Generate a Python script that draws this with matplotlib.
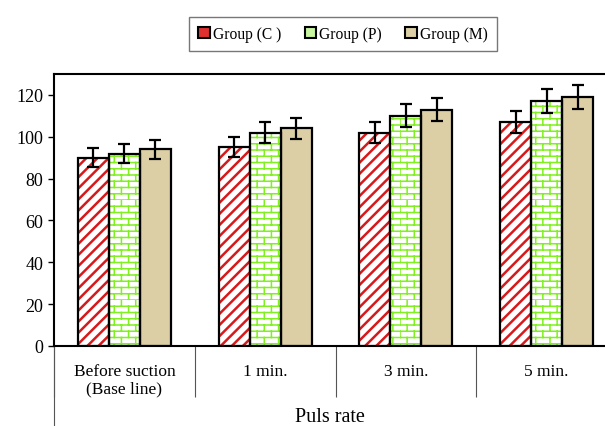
import warnings
import numpy as np
import matplotlib
matplotlib.use("Agg")
import matplotlib.pyplot as plt
from matplotlib import hatch as mhatch
from matplotlib.path import Path
from matplotlib.patches import Patch

warnings.filterwarnings("ignore")

# data
categories = ["Before suction\n(Base line)", "1 min.", "3 min.", "5 min."]
groups = ["Group (C )", "Group (P)", "Group (M)"]
group_c = [90, 95, 102, 107]
group_p = [92, 102, 110, 117]
group_m = [94, 104, 113, 119]
err_c = [4.6, 4.8, 5.0, 5.3]
err_p = [4.5, 5.0, 5.5, 5.8]
err_m = [4.6, 5.1, 5.6, 5.9]
yticks = [0, 20, 40, 60, 80, 100, 120]


# brick pattern for Group (P), 'b' in the hatch string
class BrickHatch(mhatch.HatchPatternBase):
    rows, cols = 16, 7

    def __init__(self, hatch, density):
        self.on = "b" in hatch
        self.num_lines = (self.rows + self.rows * self.cols) if self.on else 0
        self.num_vertices = self.num_lines * 2

    def set_vertices_and_codes(self, vertices, codes):
        segs = []
        for i in range(self.rows):
            y0, y1 = i / self.rows, (i + 1) / self.rows
            segs.append(((0.0, y0), (1.0, y0)))
            for j in range(self.cols):
                x = (j + 0.5 * (i % 2)) / self.cols
                segs.append(((x, y0), (x, y1)))
        vertices[:] = np.array(segs).reshape(-1, 2)
        codes[0::2] = Path.MOVETO
        codes[1::2] = Path.LINETO


mhatch._hatch_types.append(BrickHatch)

plt.rcParams["font.family"] = ["Liberation Serif", "DejaVu Serif"]
plt.rcParams["hatch.linewidth"] = 1.5

fig = plt.figure(figsize=(6.05, 4.27), dpi=100)
ax = fig.add_axes([54 / 605, 1 - 347 / 427, 563 / 605, 272 / 427])

x = np.arange(len(categories))
w = 0.22
series = [
    (group_c, err_c, -w, "white", "#d7191c", "///", 1.8),
    (group_p, err_p, 0.0, "white", "#80f020", "b", 1.1),
    (group_m, err_m, w, "#dccfa5", "#dccfa5", None, 1.0),
]
for vals, errs, off, fc, hc, hatch, hlw in series:
    bars = ax.bar(x + off, vals, w, color=fc, edgecolor=hc, linewidth=0,
                  hatch=hatch, zorder=2)
    for b in bars:
        if hasattr(b, "set_hatch_linewidth"):
            b.set_hatch_linewidth(hlw)
    ax.bar(x + off, vals, w, fill=False, edgecolor="black", linewidth=1.6,
           zorder=3)
    ax.errorbar(x + off, vals, yerr=errs, fmt="none", ecolor="black",
                elinewidth=1.6, capsize=4.5, capthick=1.6, zorder=4)

ax.set_xlim(-0.5, 3.5)
ax.set_ylim(0, 130)
ax.set_yticks(yticks)
ax.tick_params(axis="y", labelsize=13, length=4, width=1, direction="out")

# category boundaries as long ticks, labels in between
ax.set_xticks([-0.5, 0.5, 1.5, 2.5, 3.5])
ax.set_xticklabels([])
ax.tick_params(axis="x", which="major", length=37, width=0.8, color="#555555")
ax.set_xticks(x, minor=True)
ax.set_xticklabels(categories, minor=True, fontsize=12.5, linespacing=1.15)
ax.tick_params(axis="x", which="minor", length=0, pad=12)
ax.plot([0, 0], [0, -80 / 272], transform=ax.transAxes, color="#555555",
        linewidth=0.8, clip_on=False)

for side in ["left", "top", "bottom"]:
    ax.spines[side].set_linewidth(1.5)
ax.spines["right"].set_visible(False)

fig.text(330 / 605, 1 - 418 / 427, "Puls rate", ha="center", va="center",
         fontsize=14.5)

handles = [
    Patch(facecolor="#e03030", edgecolor="black", linewidth=1.5),
    Patch(facecolor="#c8f5a0", edgecolor="black", linewidth=1.5),
    Patch(facecolor="#dccfa5", edgecolor="black", linewidth=1.5),
]
leg = fig.legend(handles, groups, loc="center", ncol=3,
                 bbox_to_anchor=(343 / 605, 1 - 35 / 427), fontsize=11.2,
                 handlelength=0.75, handleheight=0.75, handletextpad=0.2,
                 columnspacing=1.5, borderpad=0.6, fancybox=False,
                 edgecolor="#777777", framealpha=1)
leg.get_frame().set_linewidth(1.0)

fig.savefig("out.png", dpi=100)
